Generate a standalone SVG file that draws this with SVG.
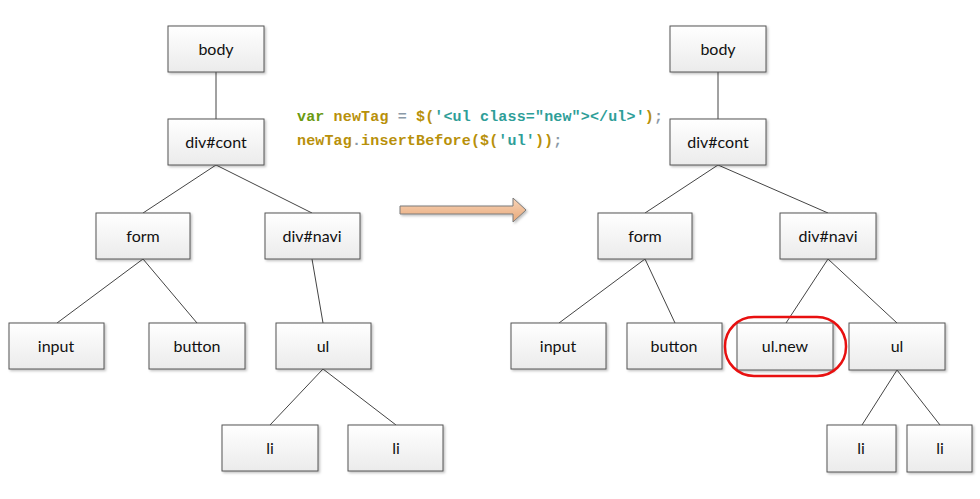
<svg xmlns="http://www.w3.org/2000/svg" width="980" height="499" viewBox="0 0 980 499">
<defs>
<linearGradient id="g" x1="0" y1="0" x2="0" y2="1">
<stop offset="0" stop-color="#ffffff"/>
<stop offset="1" stop-color="#ebebeb"/>
</linearGradient>
<linearGradient id="ag" x1="0" y1="0" x2="0" y2="1">
<stop offset="0" stop-color="#f8d4b8"/>
<stop offset="1" stop-color="#e8a878"/>
</linearGradient>
<filter id="sh" x="-10%" y="-10%" width="130%" height="130%">
<feDropShadow dx="1.5" dy="1.5" stdDeviation="1" flood-color="#000" flood-opacity="0.25"/>
</filter>
</defs>
<style>
.n rect{fill:url(#g);stroke:#555;stroke-width:1;filter:url(#sh)}
.n text{font-family:Lato,"Open Sans","Liberation Sans",sans-serif;font-size:16px;fill:#111;text-anchor:middle;dominant-baseline:central}
.c line{stroke:#444;stroke-width:1}
.code{font-family:"Liberation Mono",monospace;font-size:15px;font-weight:bold;letter-spacing:0.15px}
.kw{fill:#6a9a10}.id{fill:#b8900a}.p{fill:#8a99a8}.s{fill:#2e9e98}
</style>
<rect width="980" height="499" fill="#fff"/>
<g id="connectors" class="c">
<line x1="216" y1="72" x2="216" y2="119"/>
<line x1="216" y1="165" x2="143" y2="213"/>
<line x1="216" y1="165" x2="312" y2="213"/>
<line x1="143" y1="259" x2="57" y2="323"/>
<line x1="143" y1="259" x2="197" y2="323"/>
<line x1="312" y1="259" x2="323" y2="323"/>
<line x1="323" y1="369" x2="270" y2="425"/>
<line x1="323" y1="369" x2="396" y2="425"/>
<line x1="718" y1="72" x2="718" y2="119"/>
<line x1="718" y1="165" x2="645" y2="213"/>
<line x1="718" y1="165" x2="828" y2="213"/>
<line x1="645" y1="259" x2="559" y2="323"/>
<line x1="645" y1="259" x2="675" y2="323"/>
<line x1="828" y1="259" x2="786" y2="323"/>
<line x1="828" y1="259" x2="897" y2="323"/>
<line x1="897" y1="370" x2="862" y2="425"/>
<line x1="897" y1="370" x2="940" y2="425"/>
</g>
<g id="L-body" class="n"><rect x="168" y="26" width="96" height="46"/><text x="216" y="48.5">body</text></g>
<g id="L-divcont" class="n"><rect x="168" y="119" width="96" height="46"/><text x="216" y="141.5">div#cont</text></g>
<g id="L-form" class="n"><rect x="96" y="213" width="94" height="46"/><text x="143" y="235.5">form</text></g>
<g id="L-divnavi" class="n"><rect x="265" y="213" width="95" height="46"/><text x="312" y="235.5">div#navi</text></g>
<g id="L-input" class="n"><rect x="9" y="323" width="95" height="46"/><text x="56" y="345.5">input</text></g>
<g id="L-button" class="n"><rect x="149" y="323" width="96" height="46"/><text x="197" y="345.5">button</text></g>
<g id="L-ul" class="n"><rect x="276" y="323" width="95" height="46"/><text x="323" y="345.5">ul</text></g>
<g id="L-li1" class="n"><rect x="222" y="425" width="96" height="46"/><text x="270" y="447.5">li</text></g>
<g id="L-li2" class="n"><rect x="348" y="425" width="95" height="46"/><text x="396" y="447.5">li</text></g>
<g id="R-body" class="n"><rect x="670" y="26" width="96" height="46"/><text x="718" y="48.5">body</text></g>
<g id="R-divcont" class="n"><rect x="670" y="119" width="96" height="46"/><text x="718" y="141.5">div#cont</text></g>
<g id="R-form" class="n"><rect x="598" y="213" width="94" height="46"/><text x="645" y="235.5">form</text></g>
<g id="R-divnavi" class="n"><rect x="780" y="213" width="96" height="46"/><text x="828" y="235.5">div#navi</text></g>
<g id="R-input" class="n"><rect x="511" y="323" width="95" height="46"/><text x="558" y="345.5">input</text></g>
<g id="R-button" class="n"><rect x="627" y="323" width="95" height="46"/><text x="674" y="345.5">button</text></g>
<g id="R-ulnew" class="n"><rect x="737" y="323" width="96" height="47"/><text x="785" y="345.5">ul.new</text></g>
<g id="R-ul" class="n"><rect x="849" y="323" width="96" height="47"/><text x="897" y="345.5">ul</text></g>
<g id="R-li1" class="n"><rect x="827" y="425" width="69" height="47"/><text x="861" y="447.5">li</text></g>
<g id="R-li2" class="n"><rect x="907" y="425" width="65" height="47"/><text x="940" y="447.5">li</text></g>
<rect id="highlight" x="725" y="317" width="121" height="59" rx="29" ry="29" fill="none" stroke="#e81010" stroke-width="2.5"/>
<g id="arrow"><path d="M400,206 L513,206 L513,198 L526,210 L513,222 L513,214 L400,214 Z" fill="url(#ag)" stroke="#7a7a7a" stroke-width="1" filter="url(#sh)"/></g>
<g id="code" class="code">
<text x="297" y="121" xml:space="preserve"><tspan class="kw">var</tspan><tspan class="id"> newTag </tspan><tspan class="p">=</tspan><tspan class="id"> $(</tspan><tspan class="s">'&lt;ul class="new"&gt;&lt;/ul&gt;'</tspan><tspan class="id">)</tspan><tspan class="p">;</tspan></text>
<text x="297" y="145" xml:space="preserve"><tspan class="id">newTag</tspan><tspan class="p">.</tspan><tspan class="id">insertBefore($(</tspan><tspan class="s">'ul'</tspan><tspan class="id">))</tspan><tspan class="p">;</tspan></text>
</g>
</svg>
